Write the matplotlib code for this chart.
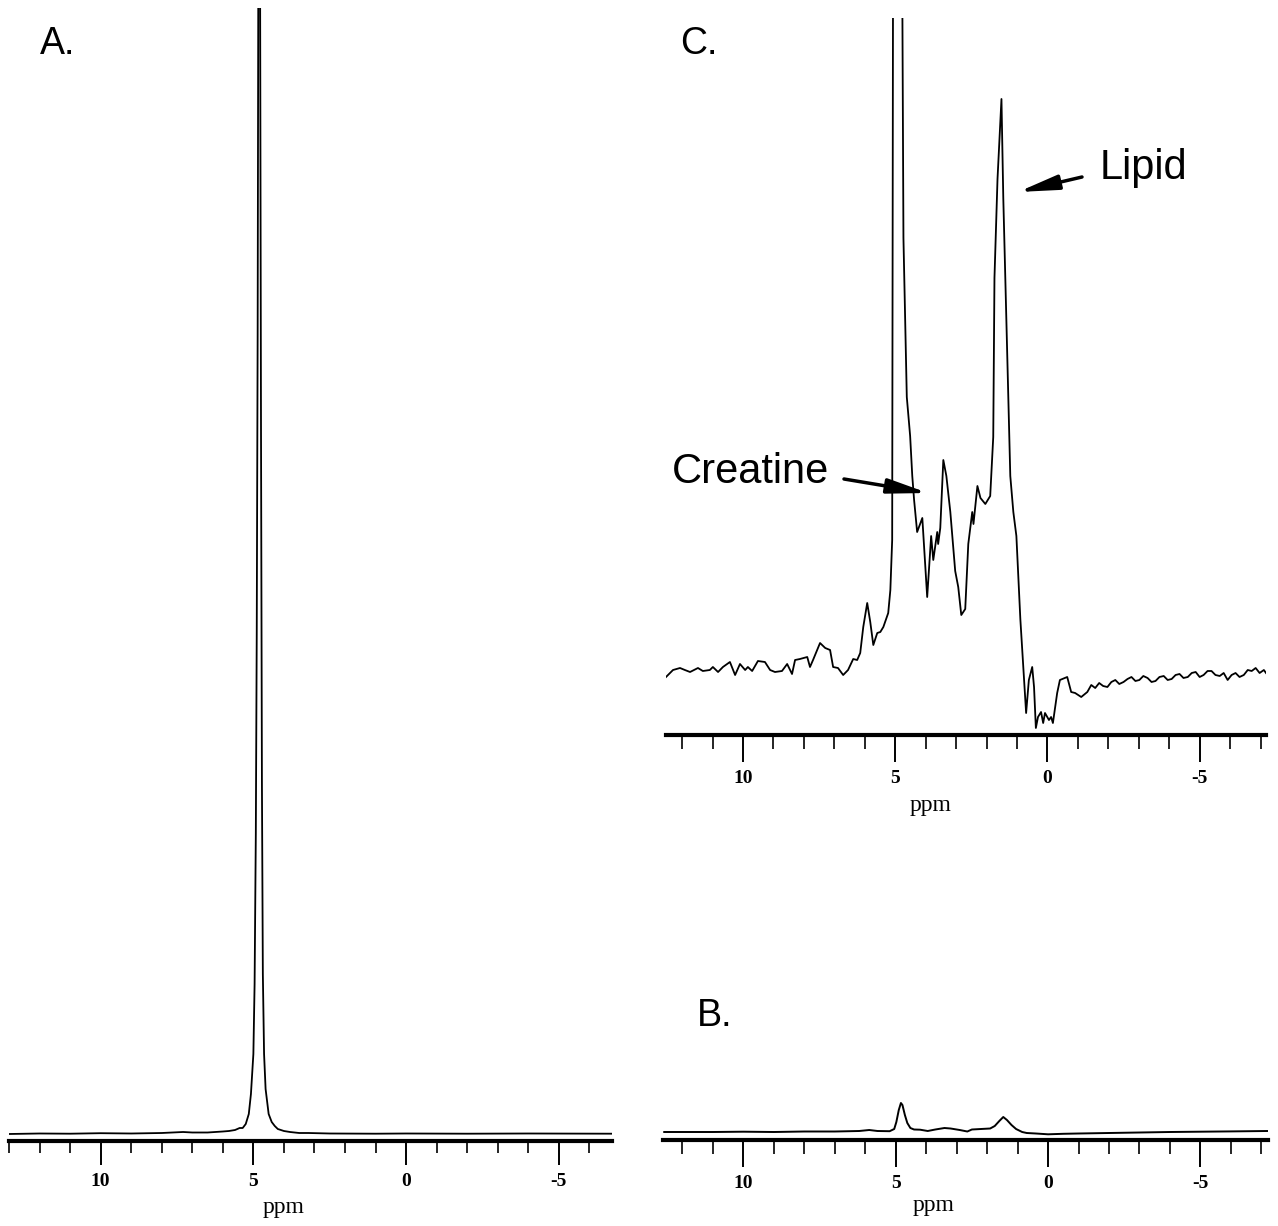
import matplotlib
matplotlib.use("Agg")
import matplotlib.pyplot as plt
from matplotlib.ticker import MultipleLocator
from matplotlib.patches import FancyArrowPatch

# ---------------- data ----------------
# Panel A: full spectrum (ppm, intensity in arbitrary units)
ppm_a = [13.0, 12.0, 11.0, 10.0, 9.0, 8.0, 7.3, 7.0, 6.5, 6.0, 5.8, 5.6, 5.45, 5.35,
         5.25, 5.15, 5.08, 5.0, 4.96, 4.92, 4.89, 4.86, 4.83, 4.79, 4.75, 4.72, 4.69,
         4.65, 4.6, 4.5, 4.4, 4.3, 4.2, 4.0, 3.8, 3.5, 3.2, 2.5, 1.0, 0.0, -2.0, -4.0, -6.74]
int_a = [0.0, 0.5, 0.3, 0.8, 0.5, 1.0, 2.0, 1.5, 1.5, 2.5, 3.0, 4.0, 6.0, 6.0,
         10.0, 20.0, 40.0, 80.0, 150.0, 300.0, 500.0, 800.0, 1300.0, 1300.0, 700.0, 350.0, 160.0,
         80.0, 45.0, 20.0, 12.0, 8.0, 5.0, 3.0, 2.0, 1.0, 1.0, 0.5, 0.3, 0.5, 0.3, 0.5, 0.3]

# Panel C: vertically expanded spectrum
ppm_c = [12.53, 12.30, 12.07, 11.91, 11.74, 11.48, 11.32, 11.09, 10.99, 10.82, 10.66, 10.43,
         10.26, 10.10, 9.93, 9.84, 9.70, 9.51, 9.28, 9.11, 8.95, 8.72, 8.55, 8.39, 8.29, 8.13,
         7.89, 7.80, 7.70, 7.47, 7.30, 7.14, 7.04, 6.88, 6.71, 6.55, 6.38, 6.25, 6.15, 6.05,
         5.92, 5.82, 5.72, 5.59, 5.49, 5.39, 5.23, 5.16, 5.10, 5.07, 4.95, 4.88, 4.80, 4.77,
         4.73, 4.62, 4.51, 4.44, 4.38, 4.28, 4.11, 3.95, 3.82, 3.75, 3.62, 3.59, 3.52, 3.42,
         3.32, 3.19, 3.03, 2.93, 2.83, 2.70, 2.60, 2.47, 2.43, 2.30, 2.20, 2.04, 1.88, 1.78,
         1.74, 1.64, 1.51, 1.45, 1.32, 1.22, 1.12, 1.02, 0.89, 0.70, 0.61, 0.50, 0.44, 0.38,
         0.31, 0.21, 0.14, 0.08, -0.05, -0.12, -0.18, -0.32, -0.41, -0.65, -0.78, -0.91, -1.11,
         -1.31, -1.44, -1.57, -1.70, -1.83, -1.97, -2.10, -2.23, -2.36, -2.50, -2.63, -2.76,
         -2.89, -3.02, -3.15, -3.29, -3.42, -3.55, -3.68, -3.82, -3.95, -4.08, -4.21, -4.34,
         -4.47, -4.61, -4.74, -4.87, -5.00, -5.13, -5.26, -5.39, -5.52, -5.66, -5.79, -5.92,
         -6.05, -6.18, -6.31, -6.45, -6.58, -6.71, -6.84, -6.97, -7.11, -7.18]
int_c = [58, 65, 67, 65, 63, 67, 64, 65, 68, 63, 68, 73,
         60, 71, 65, 68, 64, 74, 73, 65, 63, 64, 71, 61, 75, 76,
         78, 68, 75, 92, 87, 85, 68, 67, 60, 65, 76, 75, 82, 108,
         132, 113, 90, 102, 103, 108, 122, 145, 195, 800, 2000, 2400, 1500, 760,
         497, 338, 299, 259, 235, 203, 217, 138, 199, 175, 203, 191, 207, 275,
         259, 223, 164, 148, 120, 126, 191, 223, 211, 249, 237, 231, 239, 298,
         457, 556, 636, 537, 378, 259, 223, 199, 116, 22, 55, 68, 48, 7,
         18, 23, 12, 22, 15, 18, 12, 42, 55, 58, 43, 42, 38,
         43, 50, 47, 52, 49, 48, 53, 55, 51, 53, 56, 58,
         54, 55, 59, 57, 53, 54, 58, 59, 55, 56, 60, 61,
         57, 58, 62, 63, 58, 60, 64, 64, 60, 59, 62, 55,
         60, 62, 58, 60, 65, 64, 67, 62, 65, 62]

# Panel B: same region at the scale of panel A
ppm_b = [12.6, 11.0, 10.0, 9.0, 8.0, 7.0, 6.2, 5.87, 5.6, 5.2, 5.05, 4.98, 4.9, 4.83,
         4.78, 4.7, 4.62, 4.52, 4.4, 4.2, 3.95, 3.7, 3.4, 3.2, 2.9, 2.65, 2.5, 2.2, 1.9,
         1.75, 1.6, 1.47, 1.35, 1.2, 1.05, 0.85, 0.7, 0.4, 0.0, -0.5, -1.0, -2.0, -3.0,
         -4.0, -5.0, -6.0, -7.2]
int_b = [0.0, 0.0, 0.3, 0.0, 0.5, 0.5, 1.0, 2.0, 1.0, 0.8, 3.0, 10.0, 22.0, 29.0,
         27.0, 17.0, 9.0, 4.0, 2.5, 2.3, 1.0, 2.5, 4.0, 3.5, 2.0, 0.5, 2.5, 3.0, 3.5,
         6.0, 11.0, 15.0, 12.0, 7.0, 3.0, 0.0, -1.0, -1.5, -2.3, -1.8, -1.5, -1.0, -0.5,
         0.0, 0.3, 0.6, 1.0]

major_ticks = [10, 5, 0, -5]
major_labels = ["10", "5", "0", "-5"]

# ---------------- figure ----------------
W, H = 1278, 1226
fig = plt.figure(figsize=(W / 100, H / 100), dpi=100)
fig.patch.set_facecolor("white")


def rect(l, t, r, b):
    return [l / W, 1 - b / H, (r - l) / W, (b - t) / H]


def style_axis(ax, xlim, ylim, maj_len, min_len):
    ax.set_xlim(*xlim)
    ax.set_ylim(*ylim)
    for s in ("left", "right", "top"):
        ax.spines[s].set_visible(False)
    ax.spines["bottom"].set_linewidth(3.0)
    ax.set_yticks([])
    ax.set_xticks(major_ticks)
    ax.set_xticklabels(major_labels, fontfamily="Liberation Serif",
                       fontweight="bold", fontsize=14)
    ax.xaxis.set_minor_locator(MultipleLocator(1))
    ax.tick_params(axis="x", which="major", direction="out", length=maj_len,
                   width=1.4, pad=6, color="black")
    ax.tick_params(axis="x", which="minor", direction="out", length=min_len,
                   width=1.2, color="black")
    ax.patch.set_alpha(0)


axA = fig.add_axes(rect(9, 8, 612, 1141))
axA.plot(ppm_a, int_a, color="black", lw=1.3)
style_axis(axA, (13.0, -6.74), (-7, 1126), 17.3, 8.6)

axC = fig.add_axes(rect(666, 18, 1266, 735))
axC.plot(ppm_c, int_c, color="black", lw=1.3)
style_axis(axC, (12.53, -7.18), (0, 717), 19.4, 10.0)

axB = fig.add_axes(rect(663, 1060, 1268, 1140))
axB.plot(ppm_b, int_b, color="black", lw=1.4)
style_axis(axB, (12.64, -7.22), (-8, 72), 19.4, 10.0)

# axis titles
for x, y in [(284, 1208), (931, 805), (934, 1206)]:
    fig.text(x / W, 1 - y / H, "ppm", fontfamily="Liberation Serif",
             fontsize=17, ha="center", va="center")

# panel labels
for x, y, s in [(40, 44, "A."), (680, 44, "C."), (697, 1016, "B.")]:
    fig.text(x / W, 1 - y / H, s, fontfamily="Liberation Sans",
             fontsize=27, ha="left", va="center")

# annotations
fig.text(672 / W, 1 - 472 / H, "Creatine", fontfamily="Liberation Sans",
         fontsize=30, ha="left", va="center")
fig.text(1100 / W, 1 - 168 / H, "Lipid", fontfamily="Liberation Sans",
         fontsize=30, ha="left", va="center")

arrow = dict(arrowstyle="-|>,head_length=1.2,head_width=0.22", color="black",
             lw=2.5, mutation_scale=20, shrinkA=0, shrinkB=0)
fig.add_artist(FancyArrowPatch(
    (844 / W, 1 - 479 / H), (928 / W, 1 - 493 / H), transform=fig.transFigure, **arrow))
fig.add_artist(FancyArrowPatch(
    (1082 / W, 1 - 177 / H), (1018 / W, 1 - 192 / H), transform=fig.transFigure, **arrow))

fig.savefig("out.png", dpi=100, facecolor="white")
